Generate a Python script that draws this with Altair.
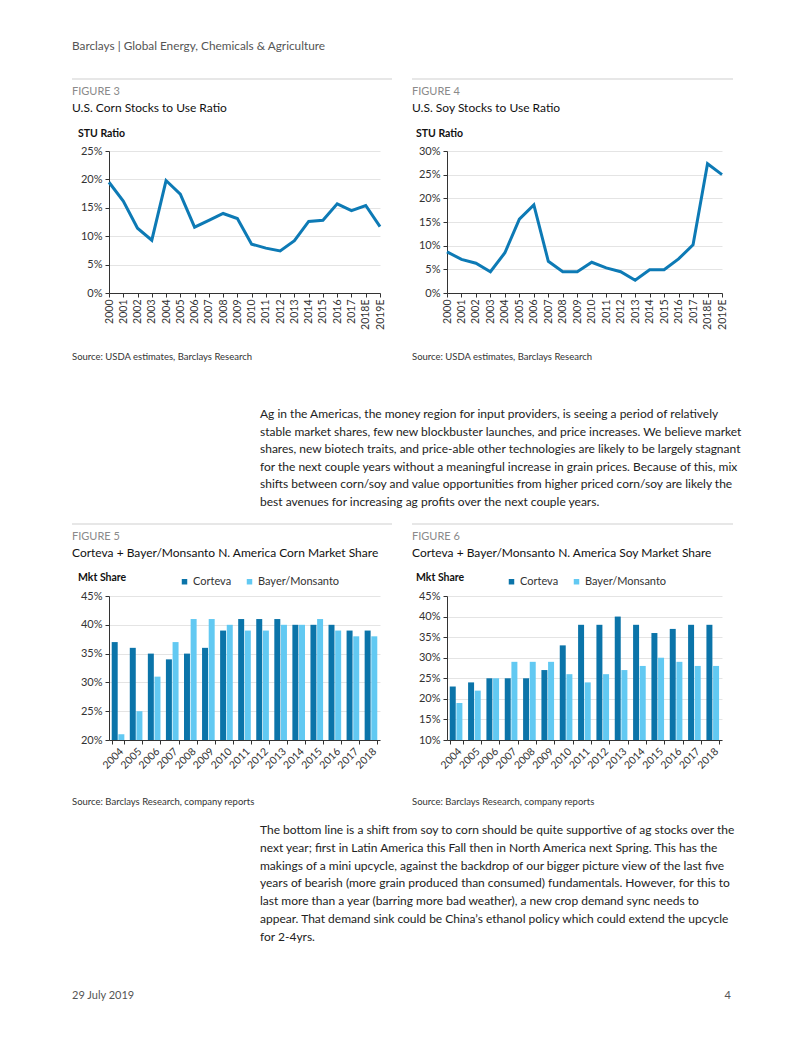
import altair as alt
import pandas as pd

# ---------------- data ----------------
stu_years = ["2000", "2001", "2002", "2003", "2004", "2005", "2006", "2007", "2008", "2009",
             "2010", "2011", "2012", "2013", "2014", "2015", "2016", "2017", "2018E", "2019E"]
corn_stu = [19.5, 16.2, 11.4, 9.3, 19.8, 17.4, 11.6, 12.8, 14.0, 13.1,
            8.6, 7.9, 7.4, 9.2, 12.6, 12.8, 15.7, 14.5, 15.4, 11.7]
soy_stu = [8.7, 7.1, 6.3, 4.5, 8.5, 15.6, 18.6, 6.7, 4.5, 4.5,
           6.5, 5.3, 4.5, 2.7, 4.9, 4.9, 7.2, 10.2, 27.3, 25.0]

ms_years = ["2004", "2005", "2006", "2007", "2008", "2009", "2010", "2011",
            "2012", "2013", "2014", "2015", "2016", "2017", "2018"]
series = ["Corteva", "Bayer/Monsanto"]
corn_corteva = [37, 36, 35, 34, 35, 36, 39, 41, 41, 41, 40, 40, 40, 39, 39]
corn_bayer = [21, 25, 31, 37, 41, 41, 40, 39, 39, 40, 40, 41, 39, 38, 38]
soy_corteva = [23, 24, 25, 25, 25, 27, 33, 38, 38, 40, 38, 36, 37, 38, 38]
soy_bayer = [19, 22, 25, 29, 29, 29, 26, 24, 26, 27, 28, 30, 29, 28, 28]

header_text = "Barclays | Global Energy, Chemicals & Agriculture"
fig_labels = ["FIGURE 3", "FIGURE 4", "FIGURE 5", "FIGURE 6"]
fig_titles = ["U.S. Corn Stocks to Use Ratio", "U.S. Soy Stocks to Use Ratio",
              "Corteva + Bayer/Monsanto N. America Corn Market Share",
              "Corteva + Bayer/Monsanto N. America Soy Market Share"]
axis_titles = ["STU Ratio", "Mkt Share"]
sources = ["Source: USDA estimates, Barclays Research", "Source: Barclays Research, company reports"]
para1 = [
    "Ag in the Americas, the money region for input providers, is seeing a period of relatively",
    "stable market shares, few new blockbuster launches, and price increases. We believe market",
    "shares, new biotech traits, and price-able other technologies are likely to be largely stagnant",
    "for the next couple years without a meaningful increase in grain prices.  Because of this, mix",
    "shifts between corn/soy and value opportunities from higher priced corn/soy are likely the",
    "best avenues for increasing ag profits over the next couple years.",
]
para2 = [
    "The bottom line is a shift from soy to corn should be quite supportive of ag stocks over the",
    "next year; first in Latin America this Fall then in North America next Spring.  This has the",
    "makings of a mini upcycle, against the backdrop of our bigger picture view of the last five",
    "years of bearish (more grain produced than consumed) fundamentals.  However, for this to",
    "last more than a year (barring more bad weather), a new crop demand sync needs to",
    "appear.  That demand sink could be China\u2019s ethanol policy which could extend the upcycle",
    "for 2-4yrs.",
]
footer_date = "29 July 2019"
footer_page = "4"

# ---------------- style ----------------
FONT = "Lato"
LINE = "#0d7ab5"
DARK = "#0b74a9"
LIGHT = "#62c9f2"
GRID = "#e4e4e4"
AXIS = "#333333"
TXT = "#222222"
dummy = pd.DataFrame({"k": [0]})


def txt(t, x, y, size=12, color=TXT, weight="normal", align="left", line_height=None):
    kw = dict(font=FONT, fontSize=size, color=color, fontWeight=weight,
              align=align, baseline="alphabetic")
    if line_height is not None:
        kw["lineHeight"] = line_height
    return alt.Chart(dummy).mark_text(text=t, **kw).encode(x=alt.value(x), y=alt.value(y))


def hrule(x1, x2, y):
    return alt.Chart(dummy).mark_rule(color="#cfcfcf", strokeWidth=1).encode(
        x=alt.value(x1), x2=alt.value(x2), y=alt.value(y))


def spacer(w, h):
    return alt.Chart(dummy).mark_text(text=" ", fontSize=1).encode(
        x=alt.value(5), y=alt.value(5)).properties(width=w, height=h)


def y_axis(vals):
    return alt.Axis(title=None, format=".0%", values=vals, grid=True, gridColor=GRID,
                    domainColor=AXIS, tickColor=AXIS, tickSize=4, labelFont=FONT,
                    labelFontSize=11, labelColor=AXIS, labelPadding=3)


def line_chart(vals, ymax, ticks, w, h):
    df = pd.DataFrame({"year": stu_years, "v": [v / 100 for v in vals]})
    return alt.Chart(df).mark_line(color=LINE, strokeWidth=3).encode(
        x=alt.X("year:N", sort=stu_years, scale=alt.Scale(type="point", padding=0),
                axis=alt.Axis(title=None, labelAngle=270, labelAlign="right", labelBaseline="middle",
                              labelPadding=2, tickSize=4, domainColor=AXIS, tickColor=AXIS,
                              labelFont=FONT, labelFontSize=10.5, labelColor=AXIS, grid=False)),
        y=alt.Y("v:Q", scale=alt.Scale(domain=[0, ymax], nice=False), axis=y_axis(ticks)),
    ).properties(width=w, height=h)


def bar_chart(cort, bayer, ymin, ticks, w, h, lx):
    rows = []
    for yr, c, b in zip(ms_years, cort, bayer):
        rows.append({"year": yr, "s": series[0], "v": c / 100})
        rows.append({"year": yr, "s": series[1], "v": b / 100})
    df = pd.DataFrame(rows)
    return alt.Chart(df).mark_bar().encode(
        x=alt.X("year:N", sort=ms_years, scale=alt.Scale(paddingInner=0.3, paddingOuter=0.15),
                axis=alt.Axis(title=None, labelAngle=315, tickBand="extent", tickSize=4,
                              domainColor=AXIS, tickColor=AXIS, labelFont=FONT, labelFontSize=10.5,
                              labelColor=AXIS, labelPadding=2, grid=False)),
        xOffset=alt.XOffset("s:N", sort=series, scale=alt.Scale(paddingInner=0.1)),
        y=alt.Y("v:Q", scale=alt.Scale(domain=[ymin, 0.45], nice=False, zero=False), axis=y_axis(ticks)),
        y2=alt.Y2(datum=ymin),
        color=alt.Color("s:N", sort=series, scale=alt.Scale(domain=series, range=[DARK, LIGHT]),
                        legend=alt.Legend(title=None, orient="none", legendX=lx, legendY=-20,
                                          direction="horizontal", symbolType="square", symbolSize=30,
                                          symbolStrokeWidth=0, labelFont=FONT, labelFontSize=11,
                                          labelColor=AXIS, columnPadding=12, labelOffset=3)),
    ).properties(width=w, height=h)


C0, C1, C2, C3 = 101, 271, 67, 275
R0, R1, R2, R3, R4 = 143, 142, 303, 144, 289

# Row 0: header area (page y 8 -> 151)
header = alt.layer(
    txt(header_text, 64, 42, size=11.8, color="#555555"),
    hrule(64, 384, 71), hrule(404, 725, 71),
    txt(fig_labels[0], 64, 87, size=11, color="#8a8a8a"),
    txt(fig_labels[1], 404, 87, size=11, color="#8a8a8a"),
    txt(fig_titles[0], 64, 104, size=12, color="#111111"),
    txt(fig_titles[1], 404, 104, size=12, color="#111111"),
    txt(axis_titles[0], 70, 129, size=10.5, weight="bold", color="#111111"),
    txt(axis_titles[0], 408, 129, size=10.5, weight="bold", color="#111111"),
).properties(width=C0, height=R0)

# Row 2: text between (page y 293 -> 596)
middle = alt.layer(
    txt(sources[0], 64, 67, size=9.5, color="#333333"),
    txt(sources[0], 404, 67, size=9.5, color="#333333"),
    txt(para1, 252, 125, size=12, color="#222222", line_height=17.5),
    hrule(64, 384, 231), hrule(404, 725, 231),
    txt(fig_labels[2], 64, 247, size=11, color="#8a8a8a"),
    txt(fig_labels[3], 404, 247, size=11, color="#8a8a8a"),
    txt(fig_titles[2], 64, 264, size=12, color="#111111"),
    txt(fig_titles[3], 404, 264, size=12, color="#111111"),
    txt(axis_titles[1], 70, 288, size=10.5, weight="bold", color="#111111"),
    txt(axis_titles[1], 408, 288, size=10.5, weight="bold", color="#111111"),
).properties(width=C0, height=R2)

# Row 4: bottom text (page y 740 -> 1029)
bottom = alt.layer(
    txt(sources[1], 64, 65, size=9.5, color="#333333"),
    txt(sources[1], 404, 65, size=9.5, color="#333333"),
    txt(para2, 252, 94, size=12, color="#222222", line_height=17.8),
    txt(footer_date, 64, 259, size=11, color="#555555"),
    txt(footer_page, 723, 259, size=11, color="#555555", align="right"),
).properties(width=C0, height=R4)

cells = [
    header, spacer(C1, R0), spacer(C2, R0), spacer(C3, R0),
    spacer(C0, R1),
    line_chart(corn_stu, 0.25, [0, 0.05, 0.10, 0.15, 0.20, 0.25], C1, R1),
    spacer(C2, R1),
    line_chart(soy_stu, 0.30, [0, 0.05, 0.10, 0.15, 0.20, 0.25, 0.30], C3, R1),
    middle, spacer(C1, R2), spacer(C2, R2), spacer(C3, R2),
    spacer(C0, R3),
    bar_chart(corn_corteva, corn_bayer, 0.20, [0.20, 0.25, 0.30, 0.35, 0.40, 0.45], C1, R3, 70),
    spacer(C2, R3),
    bar_chart(soy_corteva, soy_bayer, 0.10, [0.10, 0.15, 0.20, 0.25, 0.30, 0.35, 0.40, 0.45], C3, R3, 59),
    bottom, spacer(C1, R4), spacer(C2, R4), spacer(C3, R4),
]

chart = alt.concat(*cells, columns=4, spacing=0, bounds="flush", align="each").resolve_scale(
    color="independent"
).properties(padding=0).configure_view(stroke=None, strokeWidth=0)

chart.save("out.html", embed_options={"renderer": "svg", "actions": False})
